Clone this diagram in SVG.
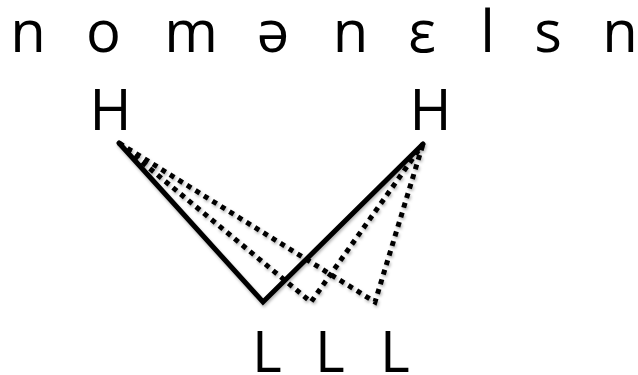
<svg xmlns="http://www.w3.org/2000/svg" width="638" height="375" viewBox="0 0 638 375">
<defs>
<style>
.seg{font-family:"Open Sans","Liberation Sans",sans-serif;font-size:58px;fill:#000;text-anchor:middle}
.tone{font-family:"Open Sans","Liberation Sans",sans-serif;font-size:57px;fill:#000}
.solid{fill:none;stroke:#000;stroke-width:5;stroke-linejoin:miter;stroke-linecap:round}
.dot{fill:none;stroke:#000;stroke-width:5;stroke-dasharray:5 5;stroke-linejoin:miter}
</style>
<filter id="sh" x="-10%" y="-10%" width="120%" height="130%">
<feDropShadow dx="1" dy="2" stdDeviation="1.5" flood-color="#000" flood-opacity="0.3"/>
</filter>
</defs>
<rect width="638" height="375" fill="#fff"/>
<g id="segments">
<text class="seg" x="28" y="52">n</text>
<text class="seg" x="103.5" y="52">o</text>
<text class="seg" x="191" y="52">m</text>
<text class="seg" x="273" y="52">ə</text>
<text class="seg" x="350.5" y="52">n</text>
<text class="seg" x="422" y="52">ε</text>
<text class="seg" x="487.5" y="52">l</text>
<text class="seg" x="548" y="52">s</text>
<text class="seg" x="620" y="52">n</text>
</g>
<g id="H1"><text class="tone" x="110.5" y="130" text-anchor="middle">H</text></g>
<g id="H2"><text class="tone" x="430.5" y="130" text-anchor="middle">H</text></g>
<g id="L1"><text class="tone" x="252" y="372">L</text></g>
<g id="L2"><text class="tone" x="315" y="372">L</text></g>
<g id="L3"><text class="tone" x="380" y="372">L</text></g>
<g id="connectors" filter="url(#sh)">
<polyline class="solid" points="119,143 263,302 423,144"/>
<polyline class="dot" points="119,143 311,302 423,144"/>
<polyline class="dot" points="119,143 375,302 423,144"/>
</g>
</svg>
